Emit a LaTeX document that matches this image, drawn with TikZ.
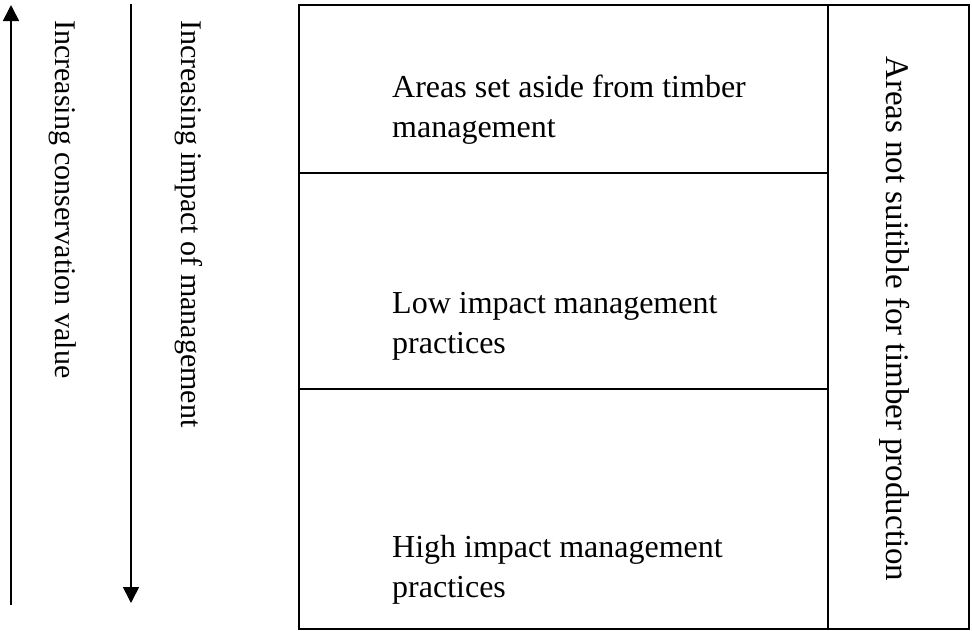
\documentclass[tikz,border=0pt]{standalone}
\usepackage{fontspec}
\setmainfont{Liberation Serif}
\usetikzlibrary{arrows.meta}
\begin{document}
\begin{tikzpicture}[x=1pt,y=-1pt,
  cell/.style={draw,line width=1.6pt,inner sep=0pt,anchor=north west},
  label/.style={inner sep=0pt,font=\fontsize{32}{40}\selectfont,align=left,anchor=base west},
  vlabel/.style={inner sep=0pt,rotate=-90,anchor=base west},
  axis/.style={line width=1.6pt,-{Triangle[length=16pt,width=16pt]}}]
\useasboundingbox (0,0) rectangle (972,630);
% table cells
\node[cell,minimum width=529pt,minimum height=168pt] (top) at (298,4) {};
\node[cell,minimum width=529pt,minimum height=216pt] (mid) at (298,172) {};
\node[cell,minimum width=529pt,minimum height=240pt] (bot) at (298,388) {};
\node[cell,minimum width=141pt,minimum height=624pt] (side) at (827,4) {};
% cell texts (anchored on the baseline of the last line)
\node[label] (ttop) at (392,137) {Areas set aside from timber\\management};
\node[label] (tmid) at (392,353) {Low impact management\\practices};
\node[label] (tbot) at (392,597) {High impact management\\practices};
\node[vlabel,font=\fontsize{33}{40}\selectfont] (tside) at (886,56)
  {Areas not suitible for timber production};
% axes
\coordinate (c0) at (11,605);
\coordinate (c1) at (11,5);
\coordinate (m0) at (131,4);
\coordinate (m1) at (131,603);
\draw[axis] (c0) -- (c1);
\draw[axis] (m0) -- (m1);
\node[vlabel,font=\fontsize{30}{36}\selectfont] (lcons) at (55,20) {Increasing conservation value};
\node[vlabel,font=\fontsize{30}{36}\selectfont] (limp) at (181,20) {Increasing impact of management};
\end{tikzpicture}
\end{document}
